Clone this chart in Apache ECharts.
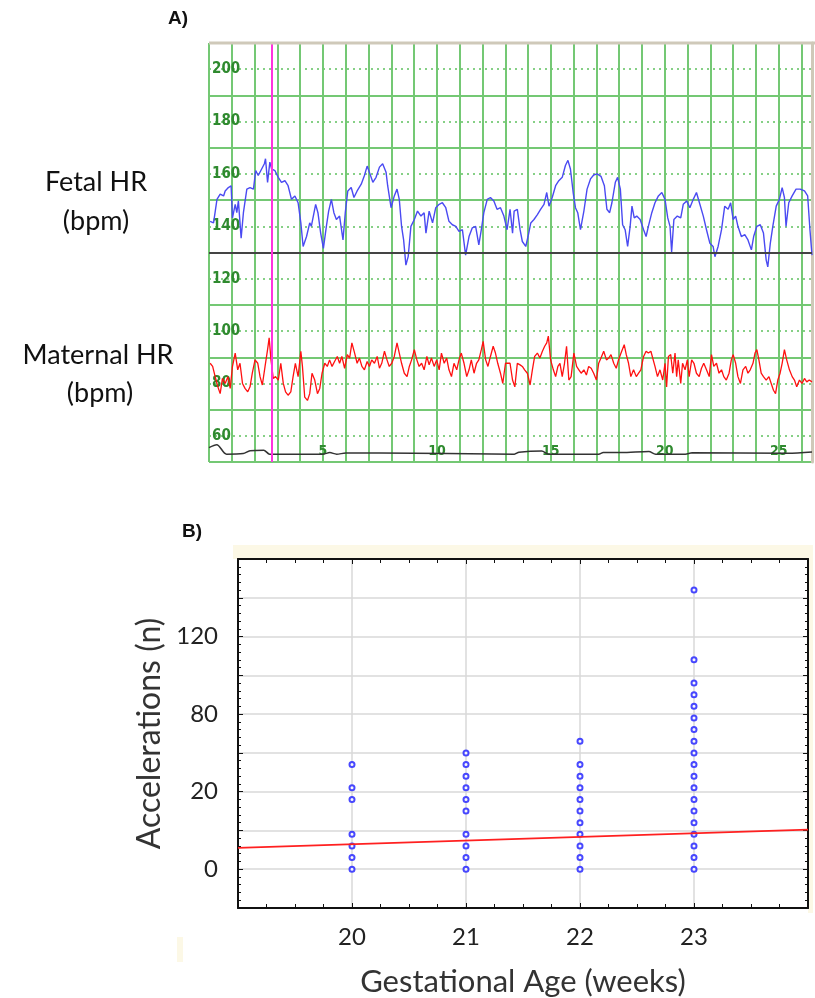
<!DOCTYPE html>
<html>
<head>
<meta charset="utf-8">
<script src="https://cdn.jsdelivr.net/npm/echarts@6/dist/echarts.min.js"></script>
<style>
  html, body { margin: 0; padding: 0; background: #fff; }
  #chart { width: 815px; height: 998px; }
</style>
</head>
<body>
<div id="chart"></div>
<script>
// ---- panel A : heart rate traces (time in minutes, bpm) ----
var fetalMin = [0.05,0.20,0.35,0.49,0.64,0.71,0.85,0.97,1.03,1.15,1.22,1.29,1.41,1.51,1.66,1.80,1.95,
  2.05,2.16,2.31,2.43,2.48,2.57,2.67,2.75,2.89,3.04,3.18,3.33,3.47,3.62,3.77,3.91,
  4.03,4.13,4.28,4.42,4.49,4.68,4.78,4.90,5.02,5.15,5.25,5.37,5.48,5.59,5.73,5.88,5.98,
  6.09,6.24,6.36,6.50,6.68,6.82,6.94,7.04,7.19,7.33,7.48,7.62,7.77,7.84,7.99,
  8.13,8.25,8.35,8.45,8.54,8.64,8.74,8.86,9.01,9.15,9.30,9.44,9.52,9.66,9.81,9.95,
  10.10,10.24,10.39,10.53,10.68,10.83,10.97,11.12,11.26,11.41,11.55,11.70,11.84,11.95,
  12.06,12.21,12.35,12.50,12.64,12.79,12.94,13.08,
  13.21,13.32,13.39,13.53,13.65,13.75,13.90,14.00,14.12,14.26,14.41,14.55,14.70,14.82,14.92,
  15.06,15.21,15.35,15.50,15.64,15.75,15.86,15.98,16.08,16.18,16.30,16.45,16.59,16.74,16.88,
  17.03,17.20,17.35,17.46,17.58,17.68,17.83,17.93,18.05,18.15,18.26,18.37,18.48,18.56,18.66,18.77,18.92,
  19.07,19.18,19.28,19.43,19.57,19.72,19.87,20.01,20.13,20.23,20.30,20.40,20.55,20.70,20.81,20.96,
  21.10,21.25,21.39,21.54,21.69,21.83,21.98,22.12,22.20,22.34,22.49,22.63,22.78,22.89,
  23.00,23.11,23.21,23.36,23.51,23.65,23.80,23.90,24.04,24.19,24.33,24.45,24.52,24.63,24.74,24.89,
  25.03,25.15,25.25,25.32,25.44,25.59,25.76,25.94,26.13,26.27,26.37,26.46];
var fetalBpm = [141.9,141.3,150.3,152.3,151.6,153.5,154.8,155.5,143.2,148.4,145.2,149.7,135.5,145.2,154.2,154.8,154.2,
  161.3,159.4,161.9,163.9,165.8,156.8,164.5,161.9,161.3,158.7,156.8,157.4,155.5,150.3,151.6,149.0,
  141.3,132.3,136.1,141.3,140.0,148.4,145.2,137.4,131.6,140.0,145.8,150.3,145.2,142.6,143.9,134.8,145.2,
  153.5,154.8,151.0,153.5,156.1,159.4,163.0,160.6,156.8,158.7,162.6,163.9,160.6,155.5,147.1,
  151.6,154.2,150.3,140.0,134.8,125.2,128.4,140.0,142.6,145.8,143.9,145.2,137.4,145.8,141.3,147.1,
  148.4,149.0,147.1,141.9,140.6,140.0,138.1,138.7,129.0,136.1,139.4,140.0,132.9,138.7,
  145.2,150.3,151.0,149.7,146.5,147.1,143.9,138.7,
  146.5,137.4,145.8,146.5,138.7,134.2,132.3,136.1,141.3,142.6,144.5,146.5,148.4,152.9,147.7,
  151.0,155.5,157.4,158.7,163.2,165.2,161.9,152.9,147.1,145.2,138.7,145.8,154.2,158.1,159.6,
  160.0,159.1,155.5,146.5,145.2,149.0,156.8,158.7,154.2,140.6,138.7,132.3,140.0,147.7,143.2,143.9,142.6,
  138.7,136.1,140.0,145.2,149.0,151.6,152.9,150.3,143.2,140.0,130.2,142.6,143.9,143.2,148.4,149.7,
  147.1,150.3,152.9,148.4,143.9,138.7,133.5,132.3,128.4,132.3,138.7,147.7,146.5,149.0,
  142.6,143.9,140.0,136.1,136.8,134.8,131.0,136.1,140.0,140.6,137.4,127.1,124.5,133.5,140.0,147.7,
  150.3,154.8,151.0,140.0,149.0,151.6,154.2,154.2,153.5,151.6,138.7,129.0];

var maternalMin = [0.05,0.16,0.27,0.39,0.49,0.59,0.71,0.83,0.93,1.03,1.15,1.26,1.36,1.47,1.58,1.70,1.80,1.90,
  2.02,2.14,2.24,2.34,2.46,2.57,2.64,2.72,2.82,2.92,3.04,3.15,3.26,3.36,3.47,3.59,3.69,3.79,3.91,
  4.03,4.10,4.20,4.32,4.42,4.52,4.64,4.76,4.86,4.96,5.08,5.19,5.29,5.40,5.51,5.63,5.73,5.83,5.95,
  6.07,6.17,6.27,6.39,6.50,6.60,6.71,6.82,6.94,7.04,7.14,7.26,7.38,7.48,7.58,7.70,7.81,7.91,
  8.02,8.13,8.25,8.35,8.45,8.57,8.69,8.79,8.89,9.01,9.12,9.22,9.33,9.44,9.56,9.66,9.76,9.88,9.99,
  10.10,10.20,10.32,10.43,10.53,10.64,10.75,10.87,10.97,11.07,11.19,11.31,11.41,11.51,11.63,11.74,11.84,11.95,
  12.03,12.14,12.24,12.35,12.47,12.57,12.67,12.79,12.89,13.01,
  13.21,13.32,13.42,13.53,13.65,13.75,13.85,13.97,14.09,14.19,14.29,14.41,14.52,14.63,14.73,14.82,14.89,14.99,
  15.11,15.21,15.31,15.40,15.50,15.60,15.69,15.79,15.89,16.01,16.13,16.23,16.33,16.45,16.56,16.66,16.77,16.88,
  17.00,17.10,17.20,17.32,17.44,17.54,17.64,17.76,17.87,17.97,18.08,18.16,18.22,18.31,18.41,18.51,18.63,18.75,18.85,18.95,
  19.07,19.18,19.28,19.39,19.47,19.57,19.68,19.79,19.91,20.01,20.08,20.16,20.26,20.35,20.45,20.52,20.59,20.70,20.78,20.89,20.99,
  21.07,21.18,21.28,21.39,21.51,21.61,21.71,21.83,21.95,22.05,22.15,22.27,22.38,22.49,22.59,22.70,22.82,22.92,
  23.00,23.11,23.21,23.32,23.43,23.55,23.65,23.75,23.87,23.96,24.04,24.13,24.23,24.33,24.45,24.57,24.67,24.77,24.86,24.96,
  25.06,25.15,25.25,25.35,25.47,25.59,25.69,25.79,25.91,26.02,26.13,26.23,26.34,26.46];
var maternalBpm = [87.7,86.5,82.6,78.7,76.1,81.9,80.0,82.6,78.1,86.5,91.6,85.2,87.7,80.0,78.1,76.8,78.7,83.9,
  89.0,87.7,82.6,79.4,86.5,92.9,97.4,89.0,81.9,82.6,81.3,87.7,80.0,76.8,75.5,76.8,82.6,87.7,82.6,
  92.3,86.5,74.8,73.5,76.1,83.9,81.3,76.1,78.1,83.9,87.7,86.5,89.0,86.5,88.4,90.3,87.7,90.3,85.8,
  91.0,89.7,95.5,91.6,87.7,89.7,86.5,85.2,88.4,86.5,89.0,87.7,90.3,85.8,87.7,92.3,89.0,86.5,
  87.7,90.3,95.5,91.6,87.7,83.9,82.6,86.5,89.0,92.9,89.0,86.5,87.7,85.2,90.3,87.1,89.7,86.5,89.0,
  85.2,91.6,87.7,89.7,85.2,82.6,87.7,85.2,89.0,91.6,87.7,82.6,85.2,89.0,83.9,87.7,89.0,92.9,
  96.1,89.0,86.5,90.3,94.2,91.6,87.7,83.9,80.0,87.7,
  87.7,81.3,78.7,87.7,87.1,86.5,85.2,83.9,79.4,85.2,90.3,91.6,89.7,92.3,94.2,95.5,98.1,89.0,
  85.2,82.6,86.5,87.7,82.6,87.7,94.2,81.3,82.6,91.6,86.5,85.2,83.9,85.2,83.2,86.5,85.8,83.9,
  81.3,87.7,89.7,92.3,89.0,89.7,91.0,87.7,85.8,89.0,91.6,92.3,94.8,91.0,87.7,82.6,85.2,82.6,83.9,85.2,
  90.3,92.3,91.6,92.3,91.6,86.5,82.6,85.2,81.3,87.7,78.7,90.3,91.0,83.9,91.6,82.6,89.0,80.0,87.7,85.2,89.0,
  82.6,89.0,87.7,83.9,82.6,85.8,87.7,85.2,82.6,91.0,86.5,87.7,83.9,85.2,82.6,81.3,83.9,89.0,
  91.0,87.7,82.6,80.0,85.2,86.5,83.9,85.2,87.7,91.6,92.9,89.0,83.9,82.6,81.3,82.6,80.0,77.4,76.1,81.3,
  83.9,87.7,92.9,89.0,85.2,82.6,81.3,78.7,81.3,80.0,81.9,80.6,81.3,80.6];

// toco baseline trace at the bottom of panel A
var tocoMin = [0,0.34,0.77,1.5,1.8,2.4,2.66,5.0,5.3,5.6,6.0,7.5,13.4,13.6,14.6,14.9,17.1,17.3,18.1,19.3,19.6,20.9,21.2,25.4,26.46];
var tocoVal = [55.5,56.6,53.0,53.2,54.3,54.5,53.0,53.0,53.6,53.0,53.4,53.4,53.0,53.7,54.2,53.0,53.0,53.6,53.6,54.0,53.0,53.0,53.5,53.3,53.8];

var hrTickLabels = [60, 80, 100, 120, 140, 160, 180, 200];
var minuteLabels = [5, 10, 15, 20, 25];
var markerMinute = 2.75;
var baselineBpm = 130;

// ---- panel B : accelerations vs gestational age ----
var gaWeeks = [20, 21, 22, 23];
var acc20 = [0, 3, 6, 9, 18, 21, 27];
var acc21 = [0, 3, 6, 9, 15, 18, 21, 24, 27, 30];
var acc22 = [0, 3, 6, 9, 12, 15, 18, 21, 24, 27, 33];
var acc23 = [0, 3, 6, 9, 12, 15, 18, 21, 24, 27, 30, 33, 36, 39, 42, 45, 48, 54, 72];
var fitLine = [[19, 5.5], [24, 10.2]];
var accTickValues = [0, 20, 40, 60];
var accTickLabels = ['0', '20', '80', '120'];

function pairs(xs, ys) {
  var out = [];
  for (var i = 0; i < xs.length; i++) out.push([xs[i], ys[i]]);
  return out;
}

var accGroups = [acc20, acc21, acc22, acc23];
var accPoints = [];
for (var g = 0; g < gaWeeks.length; g++) {
  for (var k = 0; k < accGroups[g].length; k++) accPoints.push([gaWeeks[g], accGroups[g][k]]);
}

var green = '#74c874';
var darkGreen = '#2f8a2f';
var labelFont = 'Lato';
var sideFont = '27px Lato';

var myChart = echarts.init(document.getElementById('chart'));

var option = {
  animation: false,
  backgroundColor: '#ffffff',
  grid: [
    { left: 209, top: 43, right: 0, height: 419 },
    { left: 238, top: 559, width: 570, height: 354 }
  ],
  graphic: [
    { type: 'rect', shape: { x: 233, y: 545, width: 580, height: 14 }, style: { fill: '#fcf8e6' }, z: -10 },
    { type: 'rect', shape: { x: 808, y: 559, width: 5, height: 354 }, style: { fill: '#fcf8e6' }, z: -10 },
    { type: 'rect', shape: { x: 177, y: 937, width: 6, height: 25 }, style: { fill: '#fcf8e6' }, z: -10 },
    { type: 'line', shape: { x1: 209, y1: 43, x2: 815, y2: 43 }, style: { stroke: '#cfc9b9', lineWidth: 3 }, z: 10 },
    { type: 'text', x: 168, y: 9, style: { text: 'A)', font: 'bold 19px "Liberation Sans"', fill: '#111' } },
    { type: 'text', x: 182, y: 522, style: { text: 'B)', font: 'bold 19px "Liberation Sans"', fill: '#111' } },
    { type: 'text', x: 96, y: 182, style: { text: 'Fetal HR', font: sideFont, fill: '#111', textAlign: 'center', textVerticalAlign: 'middle' } },
    { type: 'text', x: 96, y: 221, style: { text: '(bpm)', font: sideFont, fill: '#111', textAlign: 'center', textVerticalAlign: 'middle' } },
    { type: 'text', x: 98, y: 355, style: { text: 'Maternal HR', font: sideFont, fill: '#111', textAlign: 'center', textVerticalAlign: 'middle' } },
    { type: 'text', x: 100, y: 393, style: { text: '(bpm)', font: sideFont, fill: '#111', textAlign: 'center', textVerticalAlign: 'middle' } }
  ],
  xAxis: [
    {
      gridIndex: 0, type: 'value', min: 0, max: 26.46, interval: 1,
      axisLine: { show: false }, axisTick: { show: false },
      axisLabel: {
        inside: true, margin: 4, color: darkGreen, fontSize: 14, fontWeight: 'bold',
        fontFamily: 'DejaVu Sans Condensed',
        formatter: function (v) { return minuteLabels.indexOf(v) >= 0 ? String(v) : ''; }
      },
      splitLine: { show: true, lineStyle: { color: green, width: 2 } }
    },
    {
      gridIndex: 1, type: 'value', min: 19, max: 24, interval: 1,
      axisLine: { onZero: false, lineStyle: { color: '#111', width: 2 } },
      axisTick: { inside: true, length: 5, lineStyle: { color: '#111' } },
      minorTick: { show: true, splitNumber: 4, length: 4, lineStyle: { color: '#111' } },
      axisLabel: {
        margin: 17, fontSize: 24, color: '#222', fontFamily: labelFont,
        formatter: function (v) { return gaWeeks.indexOf(v) >= 0 ? String(v) : ''; }
      },
      splitLine: { show: true, lineStyle: { color: '#d8d8d8', width: 1.5 } },
      name: 'Gestational Age (weeks)', nameLocation: 'middle', nameGap: 58,
      nameTextStyle: { fontSize: 31, color: '#333', fontFamily: labelFont }
    },
    {
      gridIndex: 1, type: 'value', position: 'top', min: 19, max: 24, interval: 1,
      axisLine: { onZero: false, lineStyle: { color: '#111', width: 2 } },
      axisTick: { inside: true, length: 5, lineStyle: { color: '#111' } },
      minorTick: { show: true, splitNumber: 4, length: 4, lineStyle: { color: '#111' } },
      axisLabel: { show: false }, splitLine: { show: false }
    }
  ],
  yAxis: [
    {
      gridIndex: 0, type: 'value', min: 50, max: 210, interval: 10,
      axisLine: { show: false }, axisTick: { show: false },
      axisLabel: {
        inside: true, margin: 3, color: darkGreen, fontSize: 15, fontWeight: 'bold',
        fontFamily: 'DejaVu Sans Condensed',
        formatter: function (v) { return hrTickLabels.indexOf(v) >= 0 ? String(v) : ''; }
      },
      splitLine: { show: true, lineStyle: { color: '#86d086', width: 2, type: [2, 4] } }
    },
    {
      gridIndex: 0, type: 'value', min: 50, max: 210, interval: 20, z: 1,
      axisLine: { show: true, onZero: false, lineStyle: { color: '#cfc9b9', width: 3 } },
      axisTick: { show: false }, axisLabel: { show: false },
      splitLine: { show: true, lineStyle: { color: green, width: 2 } }
    },
    {
      gridIndex: 1, type: 'value', min: -10, max: 80, interval: 10,
      axisLine: { show: true, onZero: false, lineStyle: { color: '#111', width: 2 } },
      axisTick: { show: true, inside: true, length: 5, lineStyle: { color: '#111' } },
      minorTick: { show: true, splitNumber: 5, length: 3, lineStyle: { color: '#111' } },
      axisLabel: {
        margin: 20, fontSize: 24, color: '#222', fontFamily: labelFont,
        formatter: function (v) {
          var i = accTickValues.indexOf(v);
          return i >= 0 ? accTickLabels[i] : '';
        }
      },
      splitLine: { show: true, lineStyle: { color: '#d8d8d8', width: 1.5 } },
      name: 'Accelerations (n)', nameLocation: 'middle', nameGap: 72, nameRotate: 90,
      nameTextStyle: { fontSize: 32, color: '#333', fontFamily: labelFont }
    },
    {
      gridIndex: 1, type: 'value', position: 'right', min: -10, max: 80, interval: 10,
      axisLine: { show: true, onZero: false, lineStyle: { color: '#111', width: 2 } },
      axisTick: { show: true, inside: true, length: 5, lineStyle: { color: '#111' } },
      minorTick: { show: true, splitNumber: 5, length: 3, lineStyle: { color: '#111' } },
      axisLabel: { show: false }, splitLine: { show: false }
    }
  ],
  series: [
    {
      name: 'Toco', type: 'line', xAxisIndex: 0, yAxisIndex: 0,
      data: pairs(tocoMin, tocoVal), showSymbol: false, smooth: 0.3,
      lineStyle: { color: '#333', width: 1.5 }
    },
    {
      name: 'Maternal HR', type: 'line', xAxisIndex: 0, yAxisIndex: 0,
      data: pairs(maternalMin, maternalBpm), showSymbol: false,
      lineStyle: { color: '#ff1010', width: 1.3 }
    },
    {
      name: 'Fetal HR', type: 'line', xAxisIndex: 0, yAxisIndex: 0,
      data: pairs(fetalMin, fetalBpm), showSymbol: false,
      lineStyle: { color: '#4a4af2', width: 1.4 },
      markLine: {
        silent: true, symbol: 'none', label: { show: false },
        data: [
          { yAxis: baselineBpm, lineStyle: { color: '#444', width: 2, type: 'solid' } },
          { xAxis: markerMinute, lineStyle: { color: '#ff33dd', width: 2, type: 'solid' } }
        ]
      }
    },
    {
      name: 'Accelerations', type: 'scatter', xAxisIndex: 1, yAxisIndex: 2,
      data: accPoints, symbol: 'emptyCircle', symbolSize: 5,
      itemStyle: { color: '#1a1aff', borderWidth: 1.5 }
    },
    {
      name: 'Fit', type: 'line', xAxisIndex: 1, yAxisIndex: 2,
      data: fitLine, showSymbol: false,
      lineStyle: { color: '#ff2020', width: 1.6 }
    }
  ]
};

myChart.setOption(option);
</script>
</body>
</html>
